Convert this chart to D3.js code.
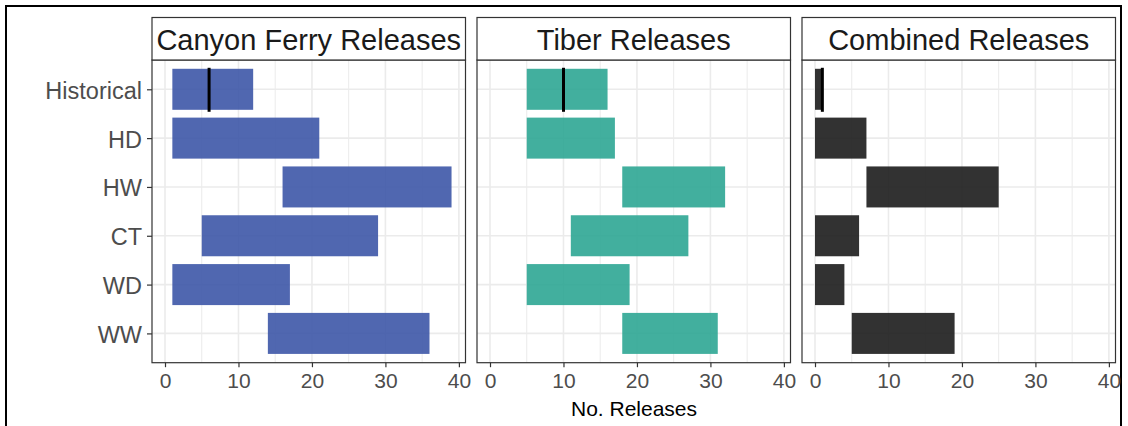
<!DOCTYPE html>
<html>
<head>
<meta charset="utf-8">
<script src="https://cdn.jsdelivr.net/npm/d3@7"></script>
<style>
  body { margin: 0; background: #fff; }
  text { font-family: Arial, "Liberation Sans", sans-serif; }
</style>
</head>
<body>
<div id="chart"></div>
<script>
// scenario rows (top to bottom)
const scenarios = ['Historical', 'HD', 'HW', 'CT', 'WD', 'WW'];
const panelTitles = ['Canyon Ferry Releases', 'Tiber Releases', 'Combined Releases'];

// range of releases per scenario (start, end)
const canyonStart = [1, 1, 16, 5, 1, 14];
const canyonEnd   = [12, 21, 39, 29, 17, 36];
const tiberStart  = [5, 5, 18, 11, 5, 18];
const tiberEnd    = [16, 17, 32, 27, 19, 31];
const combStart   = [0, 0, 7, 0, 0, 5];
const combEnd     = [1, 7, 25, 6, 4, 19];

// historical marker per panel
const historicalMark = [6, 10, 1];

const xTicks = [0, 10, 20, 30, 40];
const xMinor = [5, 15, 25, 35];

const panelColors = ['#3d57a7', '#2ea694', '#1c1c1c'];

const W = 1128, H = 426;
const svg = d3.select('#chart').append('svg')
  .attr('width', W).attr('height', H);

// outer frame
svg.append('rect')
  .attr('x', 6).attr('y', 6).attr('width', 1115).attr('height', 440)
  .attr('fill', 'none').attr('stroke', '#000').attr('stroke-width', 2);

const panelLefts = [152, 477, 802];
const panelWidth = 313.5;
const stripTop = 17.5, panelTop = 60, panelBottom = 362.7;

const y = d3.scalePoint()
  .domain(scenarios)
  .range([panelTop, panelBottom])
  .padding(0.6);
const barH = y.step() * 0.84;

const series = [
  { start: canyonStart, end: canyonEnd },
  { start: tiberStart, end: tiberEnd },
  { start: combStart, end: combEnd }
];

series.forEach((s, p) => {
  const left = panelLefts[p];
  const x = d3.scaleLinear()
    .domain([-1.77, 40.9])
    .range([left, left + panelWidth]);
  const g = svg.append('g');

  // grid
  g.selectAll('.minor').data(xMinor).enter().append('line')
    .attr('x1', d => x(d)).attr('x2', d => x(d))
    .attr('y1', panelTop).attr('y2', panelBottom)
    .attr('stroke', '#ebebeb').attr('stroke-width', 1);
  g.selectAll('.major').data(xTicks).enter().append('line')
    .attr('x1', d => x(d)).attr('x2', d => x(d))
    .attr('y1', panelTop).attr('y2', panelBottom)
    .attr('stroke', '#ebebeb').attr('stroke-width', 1.6);
  g.selectAll('.hgrid').data(scenarios).enter().append('line')
    .attr('x1', left).attr('x2', left + panelWidth)
    .attr('y1', d => y(d)).attr('y2', d => y(d))
    .attr('stroke', '#ebebeb').attr('stroke-width', 1.6);

  // bars
  g.selectAll('.bar').data(scenarios).enter().append('rect')
    .attr('x', (d, i) => x(s.start[i]))
    .attr('width', (d, i) => x(s.end[i]) - x(s.start[i]))
    .attr('y', d => y(d) - barH / 2)
    .attr('height', barH)
    .attr('fill', panelColors[p])
    .attr('fill-opacity', 0.9);

  // historical marker
  g.append('line')
    .attr('x1', x(historicalMark[p])).attr('x2', x(historicalMark[p]))
    .attr('y1', y('Historical') - barH / 2 - 1)
    .attr('y2', y('Historical') + barH / 2 + 2)
    .attr('stroke', '#000').attr('stroke-width', 3);

  // panel border
  g.append('rect')
    .attr('x', left).attr('y', panelTop)
    .attr('width', panelWidth).attr('height', panelBottom - panelTop)
    .attr('fill', 'none').attr('stroke', '#333').attr('stroke-width', 1.2);

  // strip
  g.append('rect')
    .attr('x', left).attr('y', stripTop)
    .attr('width', panelWidth).attr('height', panelTop - stripTop)
    .attr('fill', '#fff').attr('stroke', '#333').attr('stroke-width', 1.2);
  g.append('text')
    .attr('x', left + panelWidth / 2).attr('y', 49.5)
    .attr('text-anchor', 'middle')
    .style('font-size', '29px').style('fill', '#1a1a1a')
    .text(panelTitles[p]);

  // x axis
  const xAxis = d3.axisBottom(x).tickValues(xTicks).tickSize(4.5).tickPadding(6);
  const ax = g.append('g')
    .attr('transform', `translate(0,${panelBottom})`)
    .call(xAxis);
  ax.select('.domain').remove();
  ax.selectAll('line').attr('stroke', '#333').attr('stroke-width', 1.2);
  ax.selectAll('text')
    .style('font-size', '21px').style('fill', '#4d4d4d')
    .style('font-family', 'Arial, "Liberation Sans", sans-serif');

  // y axis on first panel
  if (p === 0) {
    const yAxis = d3.axisLeft(y).tickSize(5).tickPadding(5);
    const ay = g.append('g')
      .attr('transform', `translate(${left},0)`)
      .call(yAxis);
    ay.select('.domain').remove();
    ay.selectAll('line').attr('stroke', '#333').attr('stroke-width', 1.2);
    ay.selectAll('text')
      .attr('dy', '0.38em')
      .style('font-size', '23.5px').style('fill', '#4d4d4d')
      .style('font-family', 'Arial, "Liberation Sans", sans-serif');
  }
});

// x label
svg.append('text')
  .attr('x', 634).attr('y', 416)
  .attr('text-anchor', 'middle')
  .style('font-size', '21px').style('fill', '#000')
  .text('No. Releases');
</script>
</body>
</html>
